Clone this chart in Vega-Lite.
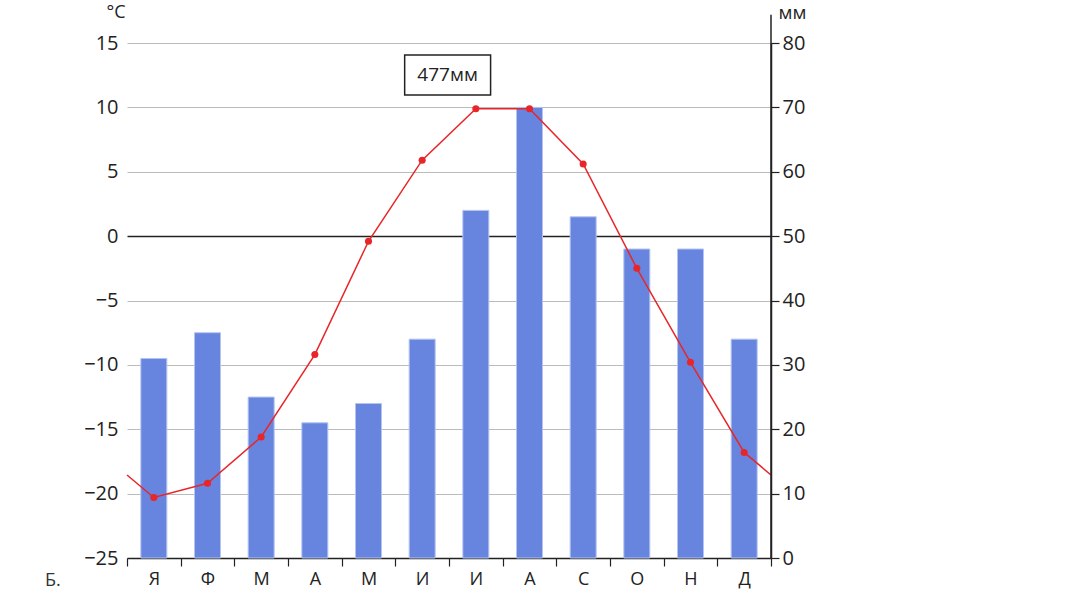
{
  "$schema": "https://vega.github.io/schema/vega-lite/v6.json",
  "autosize": {"type": "none"},
  "padding": {"left": 127, "top": 43, "right": 310, "bottom": 45},
  "width": 644,
  "height": 515,
  "background": "white",
  "config": {
    "view": {"stroke": null},
    "font": "Open Sans",
    "axis": {"labelFont": "Open Sans", "titleFont": "Open Sans", "labelColor": "#222", "titleColor": "#222", "titleFontWeight": "normal"}
  },
  "title": {"text": "Б.", "orient": "bottom", "anchor": "start", "frame": "group", "dx": -82, "dy": -20, "fontSize": 18, "fontWeight": "normal", "color": "#333", "font": "Open Sans"},
  "datasets": {
    "climate": [
      {"m": 1, "month": "Я", "temp": -20.3, "precip": 31},
      {"m": 2, "month": "Ф", "temp": -19.2, "precip": 35},
      {"m": 3, "month": "М", "temp": -15.6, "precip": 25},
      {"m": 4, "month": "А", "temp": -9.2, "precip": 21},
      {"m": 5, "month": "М", "temp": -0.4, "precip": 24},
      {"m": 6, "month": "И", "temp": 5.9, "precip": 34},
      {"m": 7, "month": "И", "temp": 9.9, "precip": 54},
      {"m": 8, "month": "А", "temp": 9.9, "precip": 70},
      {"m": 9, "month": "С", "temp": 5.6, "precip": 53},
      {"m": 10, "month": "О", "temp": -2.5, "precip": 48},
      {"m": 11, "month": "Н", "temp": -9.8, "precip": 48},
      {"m": 12, "month": "Д", "temp": -16.8, "precip": 34}
    ],
    "tempLine": [
      {"m": 0.5, "temp": -18.55},
      {"m": 1, "temp": -20.3},
      {"m": 2, "temp": -19.2},
      {"m": 3, "temp": -15.6},
      {"m": 4, "temp": -9.2},
      {"m": 5, "temp": -0.4},
      {"m": 6, "temp": 5.9},
      {"m": 7, "temp": 9.9},
      {"m": 8, "temp": 9.9},
      {"m": 9, "temp": 5.6},
      {"m": 10, "temp": -2.5},
      {"m": 11, "temp": -9.8},
      {"m": 12, "temp": -16.8},
      {"m": 12.5, "temp": -18.55}
    ]
  },
  "layer": [
    {
      "data": {"name": "climate"},
      "mark": {"type": "bar", "size": 26, "color": "#6785DF", "stroke": "#B4C3F0", "strokeWidth": 1},
      "encoding": {
        "x": {
          "field": "m", "type": "quantitative",
          "scale": {"domain": [0.5, 12.5], "nice": false, "zero": false, "padding": 0},
          "axis": {
            "orient": "bottom", "title": null, "grid": false,
            "values": [0.5, 1.5, 2.5, 3.5, 4.5, 5.5, 6.5, 7.5, 8.5, 9.5, 10.5, 11.5, 12.5],
            "labelExpr": "['Я','Ф','М','А','М','И','И','А','С','О','Н','Д',''][floor(datum.value)]",
            "labelOffset": 26.83, "labelFlush": false, "labelOverlap": false,
            "labelFontSize": 18, "labelPadding": 4,
            "domainColor": "#222", "domainWidth": 1.5, "tickColor": "#222", "tickWidth": 1.2, "tickSize": 8
          }
        },
        "y": {
          "field": "precip", "type": "quantitative",
          "scale": {"domain": [0, 80], "nice": false},
          "axis": {
            "orient": "right", "title": "мм", "titleAngle": 0, "titleAlign": "left", "titleBaseline": "middle",
            "titleX": 7, "titleY": -31, "titleFontSize": 19,
            "values": [0, 10, 20, 30, 40, 50, 60, 70, 80], "grid": false,
            "labelFontSize": 20, "labelPadding": 3,
            "domainColor": "#222", "domainWidth": 1.5, "tickColor": "#222", "tickWidth": 1.2, "tickSize": 8
          }
        }
      }
    },
    {
      "layer": [
        {
          "data": {"name": "tempLine"},
          "mark": {"type": "line", "color": "#E8262A", "strokeWidth": 1.5},
          "encoding": {
            "x": {"field": "m", "type": "quantitative"},
            "y": {
              "field": "temp", "type": "quantitative",
              "scale": {"domain": [-25, 15], "nice": false, "zero": false},
              "axis": {
                "orient": "left", "title": "°C", "titleAngle": 0, "titleAlign": "right", "titleBaseline": "middle",
                "titleX": -2, "titleY": -31, "titleFontSize": 18,
                "values": [-25, -20, -15, -10, -5, 0, 5, 10, 15],
                "grid": true, "gridColor": {"condition": {"test": "datum.value === 0", "value": "#222"}, "value": "#BBBBBB"},
                "gridWidth": {"condition": {"test": "datum.value === 0", "value": 1.5}, "value": 1},
                "domain": false, "ticks": false, "labelFontSize": 20, "labelPadding": 9
              }
            }
          }
        },
        {
          "data": {"name": "climate"},
          "mark": {"type": "point", "filled": true, "color": "#E8262A", "size": 50, "opacity": 1},
          "encoding": {
            "x": {"field": "m", "type": "quantitative"},
            "y": {"field": "temp", "type": "quantitative"}
          }
        },
        {
          "data": {"values": [{"x": 12.5, "y": -25, "y2": 17.2}]},
          "mark": {"type": "rule", "color": "#222", "strokeWidth": 1.5},
          "encoding": {
            "x": {"field": "x", "type": "quantitative"},
            "y": {"field": "y", "type": "quantitative"},
            "y2": {"field": "y2"}
          }
        },
        {
          "data": {"values": [{"x": 5.674, "x2": 7.275, "y": 14.07, "y2": 10.96, "label": "477мм"}]},
          "layer": [
            {
              "mark": {"type": "rect", "fill": "white", "stroke": "#222", "strokeWidth": 1.5},
              "encoding": {
                "x": {"field": "x", "type": "quantitative"},
                "x2": {"field": "x2"},
                "y": {"field": "y", "type": "quantitative"},
                "y2": {"field": "y2"}
              }
            },
            {
              "mark": {"type": "text", "fontSize": 19, "color": "#222", "font": "Open Sans"},
              "encoding": {
                "x": {"datum": 6.474, "type": "quantitative"},
                "y": {"datum": 12.51, "type": "quantitative"},
                "text": {"field": "label"}
              }
            }
          ]
        }
      ]
    }
  ],
  "resolve": {"scale": {"y": "independent"}}
}
